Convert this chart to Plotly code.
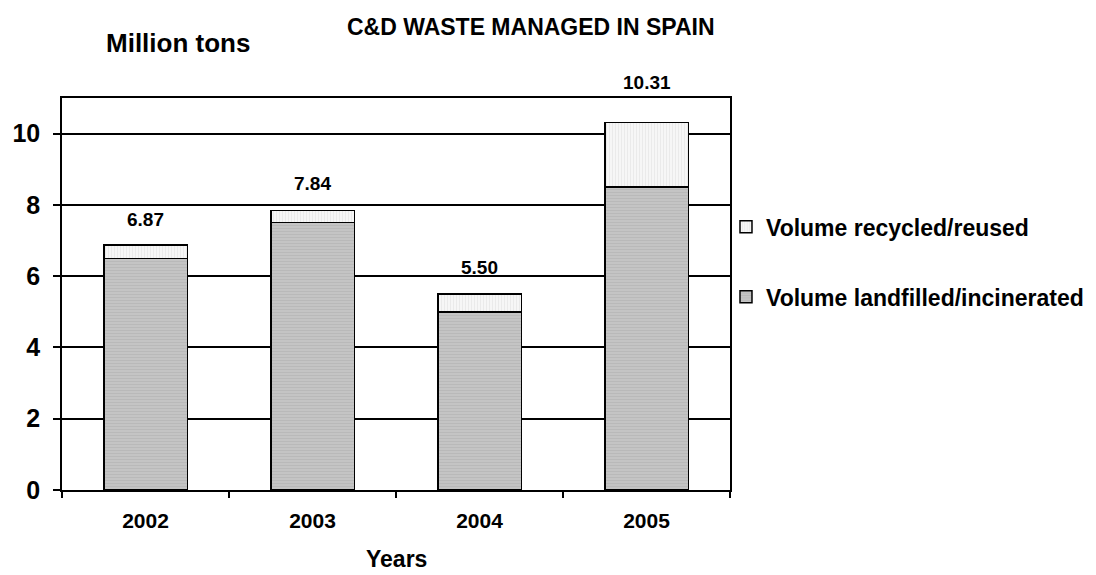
import plotly.graph_objects as go

years = ["2002", "2003", "2004", "2005"]
landfilled = [6.5, 7.5, 5.0, 8.5]
recycled = [0.37, 0.34, 0.50, 1.81]
totals = [6.87, 7.84, 5.50, 10.31]
total_labels = ["6.87", "7.84", "5.50", "10.31"]

FONT = "Liberation Sans, Arial, sans-serif"
# label offsets in px (last label sits above the frame, as in the original)
label_shift = [26, 27, 27, 40]

fig = go.Figure()
fig.add_trace(go.Bar(
    x=years, y=landfilled, name="<b>Volume landfilled/incinerated</b>",
    legendgroup="a", legendrank=2,
    marker=dict(color="#c0c0c0", line=dict(color="black", width=1.5),
                pattern=dict(shape="-", fgcolor="#acacac", bgcolor="#c4c4c4", size=3, solidity=0.3)),
    width=0.5,
))
fig.add_trace(go.Bar(
    x=years, y=recycled, name="<b>Volume recycled/reused</b>",
    legendgroup="b", legendrank=1,
    marker=dict(color="#f2f2f2", line=dict(color="black", width=1.5),
                pattern=dict(shape="|", fgcolor="#dcdcdc", bgcolor="#f6f6f6", size=3, solidity=0.3)),
    width=0.5,
))

for i, (t, lab, sh) in enumerate(zip(totals, total_labels, label_shift)):
    fig.add_annotation(x=i, y=t, text="<b>%s</b>" % lab, showarrow=False,
                       yshift=sh, yanchor="middle",
                       font=dict(family=FONT, size=19, color="black"))

fig.add_annotation(xref="paper", yref="paper", x=0.174, y=1.140, text="<b>Million tons</b>",
                   xanchor="center", yanchor="middle",
                   showarrow=False, font=dict(family=FONT, size=26, color="black"))
fig.add_annotation(xref="paper", yref="paper", x=0.5, y=-0.176, text="<b>Years</b>",
                   xanchor="center", yanchor="middle",
                   showarrow=False, font=dict(family=FONT, size=23, color="black"))

fig.update_layout(
    width=1096, height=575,
    barmode="stack",
    paper_bgcolor="white", plot_bgcolor="white",
    margin=dict(l=54, r=374, t=90, b=93, autoexpand=False),
    title=dict(text="<b>C&D WASTE MANAGED IN SPAIN</b>", x=0.477, xanchor="center",
               y=0.967, yanchor="middle", font=dict(family=FONT, size=23, color="black")),
    showlegend=True,
    legend=dict(x=0.994, xanchor="left", y=0.582, yanchor="middle",
                traceorder="grouped", tracegroupgap=37,
                bgcolor="rgba(0,0,0,0)",
                font=dict(family=FONT, size=23, color="black"),
                itemwidth=30),
    xaxis=dict(
        type="category", range=[-0.5, 3.5],
        tickfont=dict(family=FONT, size=21, color="black"),
        tickprefix="<b>", ticksuffix="</b>", tickangle=0,
        tickson="boundaries", ticks="outside", ticklen=6, tickcolor="black", tickwidth=1.5,
        ticklabelstandoff=11,
        showline=True, linecolor="black", linewidth=1.5, mirror=True, showgrid=False,
    ),
    yaxis=dict(
        range=[0, 11], dtick=2,
        tickfont=dict(family=FONT, size=25, color="black"),
        tickprefix="<b>", ticksuffix="</b>",
        ticks="outside", ticklen=7, tickcolor="black", tickwidth=1.5,
        ticklabelstandoff=8,
        showgrid=True, gridcolor="black", gridwidth=1.5, zeroline=False,
        showline=True, linecolor="black", linewidth=1.5, mirror=True,
    ),
)

fig.write_html("out.html")
